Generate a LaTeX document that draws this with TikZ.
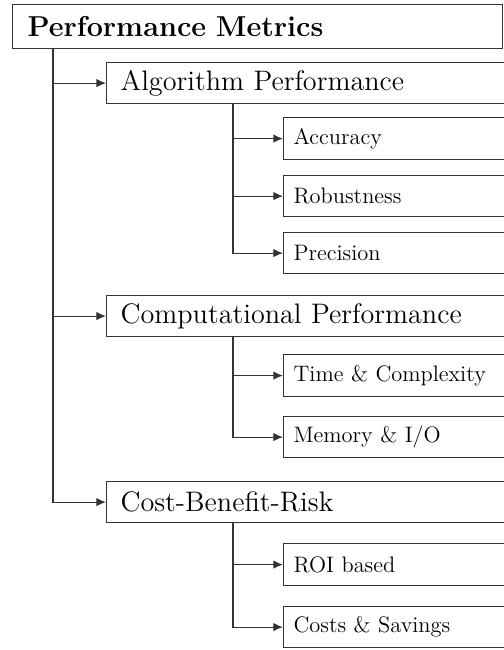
\documentclass[tikz,border=0pt]{standalone}
\usepackage{amsmath}
\usepackage{tikz}
\usetikzlibrary{arrows.meta}

\tikzset{
	box/.style={draw=black!80, line width=0.6pt, anchor=north west, align=left},
	rootbox/.style={box, font=\fontsize{14.4}{17}\selectfont\bfseries, inner xsep=7.5pt, text width=230pt},
	groupbox/.style={box, font=\fontsize{14.1}{17}\selectfont, inner xsep=7pt, text width=190pt},
	leafbox/.style={box, font=\fontsize{11.2}{13}\selectfont, inner xsep=5pt, text width=110pt},
	link/.style={draw=black!80, line width=0.6pt, -{Latex[length=4.8pt,width=4.2pt]}}
}

\begin{document}
\begin{tikzpicture}[x=0.5pt, y=-0.5pt]
	\useasboundingbox (0,0) rectangle (504,650);
	\node[rootbox, minimum height=22pt] (pm) at (12, 4)      {Performance Metrics};
	\node[groupbox, minimum height=20.5pt] (ap) at (106, 62)   {Algorithm Performance};
	\node[leafbox, minimum height=21pt] (acc) at (283, 117)   {Accuracy};
	\node[leafbox, minimum height=20.5pt] (rob) at (283, 175) {Robustness};
	\node[leafbox, minimum height=20.5pt] (pre) at (283, 232) {Precision};
	\node[groupbox, minimum height=20.5pt] (cp) at (106, 295)  {Computational Performance};
	\node[leafbox, minimum height=21pt] (tc) at (283, 354)    {Time \& Complexity};
	\node[leafbox, minimum height=20.5pt] (mio) at (283, 416) {Memory \& I/O};
	\node[groupbox, minimum height=20.5pt] (cbr) at (106, 481) {Cost-Benefit-Risk};
	\node[leafbox, minimum height=21pt] (roi) at (283, 543)   {ROI based};
	\node[leafbox, minimum height=20.5pt] (cs) at (283, 606)  {Costs \& Savings};
	\path[link] ([xshift=20.5pt]pm.south west) |- (ap.west);
	\path[link] ([xshift=20.5pt]pm.south west) |- (cp.west);
	\path[link] ([xshift=20.5pt]pm.south west) |- (cbr.west);
	\path[link] ([xshift=63.5pt]ap.south west) |- (acc.west);
	\path[link] ([xshift=63.5pt]ap.south west) |- (rob.west);
	\path[link] ([xshift=63.5pt]ap.south west) |- (pre.west);
	\path[link] ([xshift=63.5pt]cp.south west) |- (tc.west);
	\path[link] ([xshift=63.5pt]cp.south west) |- (mio.west);
	\path[link] ([xshift=63.5pt]cbr.south west) |- (roi.west);
	\path[link] ([xshift=63.5pt]cbr.south west) |- (cs.west);
\end{tikzpicture}
\end{document}
